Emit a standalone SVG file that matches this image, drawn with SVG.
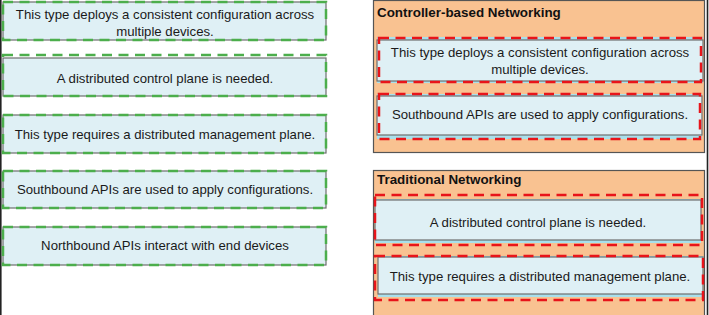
<svg xmlns="http://www.w3.org/2000/svg" width="709" height="315" viewBox="0 0 709 315">
<style>
.card{fill:#dff0f5;stroke:#6e6e6e;stroke-width:1.2}
.g{fill:none;stroke:#4cae4c;stroke-width:2.5;stroke-dasharray:10 6.5}
.r{fill:none;stroke:#e8141a;stroke-width:2.5;stroke-dasharray:10 6.5}
.panel{fill:#f9c291;stroke:#555;stroke-width:1.2}
.t{font-family:"Liberation Sans",Arial,sans-serif;font-size:13.2px;fill:#1a1a1a;text-anchor:middle}
.h{font-family:"Liberation Sans",Arial,sans-serif;font-size:13.4px;font-weight:bold;fill:#111}
.sh{fill:#a8e0ec}
</style>
<rect width="709" height="315" fill="#ffffff"/>
<g id="borders">
<line x1="0.8" y1="0" x2="0.8" y2="315" stroke="#222" stroke-width="1.6"/>
<line x1="707.5" y1="0" x2="707.5" y2="315" stroke="#222" stroke-width="1.6"/>
</g>
<g id="left-1">
<rect class="card" x="3" y="2" width="323" height="38"/>
<rect class="g" x="3" y="2" width="323" height="38"/>
<text class="t" x="165" y="19">This type deploys a consistent configuration across</text>
<text class="t" x="165" y="36">multiple devices.</text>
</g>
<g id="left-2">
<rect class="card" x="3" y="58" width="323" height="38"/>
<rect class="g" x="3" y="55" width="323" height="41"/>
<text class="t" x="165" y="83">A distributed control plane is needed.</text>
</g>
<g id="left-3">
<rect class="card" x="3" y="115" width="323" height="38"/>
<rect class="g" x="3" y="115" width="323" height="38"/>
<text class="t" x="165" y="139">This type requires a distributed management plane.</text>
</g>
<g id="left-4">
<rect class="card" x="3" y="171" width="323" height="37"/>
<rect class="g" x="3" y="171" width="323" height="37"/>
<text class="t" x="165" y="194">Southbound APIs are used to apply configurations.</text>
</g>
<g id="left-5">
<rect class="card" x="3" y="227" width="323" height="38"/>
<rect class="g" x="3" y="227" width="323" height="38"/>
<text class="t" x="165" y="250">Northbound APIs interact with end devices</text>
</g>
<g id="controller-based">
<rect class="panel" x="373.5" y="0.5" width="331" height="152"/>
<text class="h" x="377" y="17">Controller-based Networking</text>
<g id="cb-1">
<rect class="sh" x="377" y="37" width="326" height="46"/>
<rect class="card" x="377" y="40" width="326" height="41"/>
<rect class="r" x="379" y="38" width="322" height="44"/>
<text class="t" x="540" y="57">This type deploys a consistent configuration across</text>
<text class="t" x="540" y="74">multiple devices.</text>
</g>
<g id="cb-2">
<rect class="sh" x="377" y="94" width="325" height="45"/>
<rect class="card" x="377" y="96" width="325" height="39"/>
<rect class="r" x="379" y="94" width="321" height="45"/>
<text class="t" x="540" y="119">Southbound APIs are used to apply configurations.</text>
</g>
</g>
<g id="traditional">
<rect class="panel" x="373.5" y="170.5" width="331" height="150"/>
<text class="h" x="377" y="184">Traditional Networking</text>
<g id="tr-1">
<rect class="sh" x="375" y="199" width="326" height="44"/>
<rect class="card" x="375" y="200" width="326" height="40"/>
<rect class="r" x="375" y="195" width="327" height="50"/>
<text class="t" x="538" y="227">A distributed control plane is needed.</text>
</g>
<g id="tr-2">
<rect class="sh" x="378" y="256" width="325" height="41"/>
<rect class="card" x="378" y="257" width="325" height="37"/>
<rect class="r" x="375" y="256" width="328" height="44"/>
<text class="t" x="540" y="281">This type requires a distributed management plane.</text>
</g>
</g>
</svg>
